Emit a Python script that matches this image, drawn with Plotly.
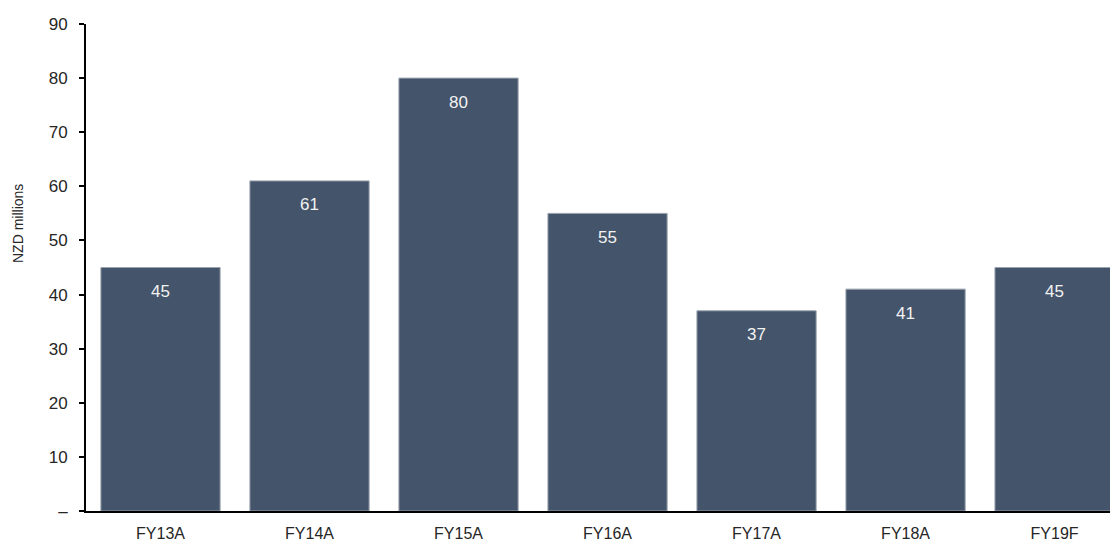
import plotly.graph_objects as go

categories = ["FY13A", "FY14A", "FY15A", "FY16A", "FY17A", "FY18A", "FY19F"]
values = [45, 61, 80, 55, 37, 41, 45]
y_ticks = [0, 10, 20, 30, 40, 50, 60, 70, 80, 90]
y_tick_labels = ["–", "10", "20", "30", "40", "50", "60", "70", "80", "90"]
y_title = "NZD millions"

bar_color = "#44546A"
font_family = "Liberation Sans, Arial, sans-serif"

fig = go.Figure()
fig.add_trace(go.Bar(
    x=list(range(len(categories))),
    y=values,
    width=0.8,
    marker=dict(color=bar_color, line=dict(color="#9AA3AE", width=1)),
    hoverinfo="skip",
))

for i, v in enumerate(values):
    fig.add_annotation(
        x=i, y=v, text=str(v), showarrow=False,
        yanchor="middle", yshift=-24,
        font=dict(color="#F2F2F2", size=17, family=font_family),
    )

# y-axis title placed as in the reference (above the vertical centre)
fig.add_annotation(
    xref="paper", yref="paper", x=(18 - 86) / 1024, y=(511 - 224) / 487,
    xanchor="center", yanchor="middle", text=y_title, textangle=-90,
    showarrow=False, font=dict(size=14, color="#262626", family=font_family),
)

fig.update_layout(
    width=1110, height=541,
    margin=dict(l=86, r=0, t=24, b=30),
    paper_bgcolor="white", plot_bgcolor="white",
    showlegend=False,
    font=dict(family=font_family, color="#262626"),
    bargap=0.2,
)
fig.update_xaxes(
    tickmode="array",
    tickvals=list(range(len(categories))),
    ticktext=categories,
    range=[-0.5, 6.372],
    showline=True, linecolor="black", linewidth=2,
    showgrid=False, zeroline=False, ticks="",
    ticklabelstandoff=7,
    tickfont=dict(size=16, color="#262626"),
)
fig.update_yaxes(
    range=[0, 90],
    tickmode="array", tickvals=y_ticks, ticktext=y_tick_labels,
    showline=True, linecolor="black", linewidth=2,
    ticks="outside", ticklen=5, tickwidth=2, tickcolor="black",
    showgrid=False, zeroline=False,
    ticklabelstandoff=8,
    tickfont=dict(size=17, color="#262626"),
)

fig.write_html("out.html")
